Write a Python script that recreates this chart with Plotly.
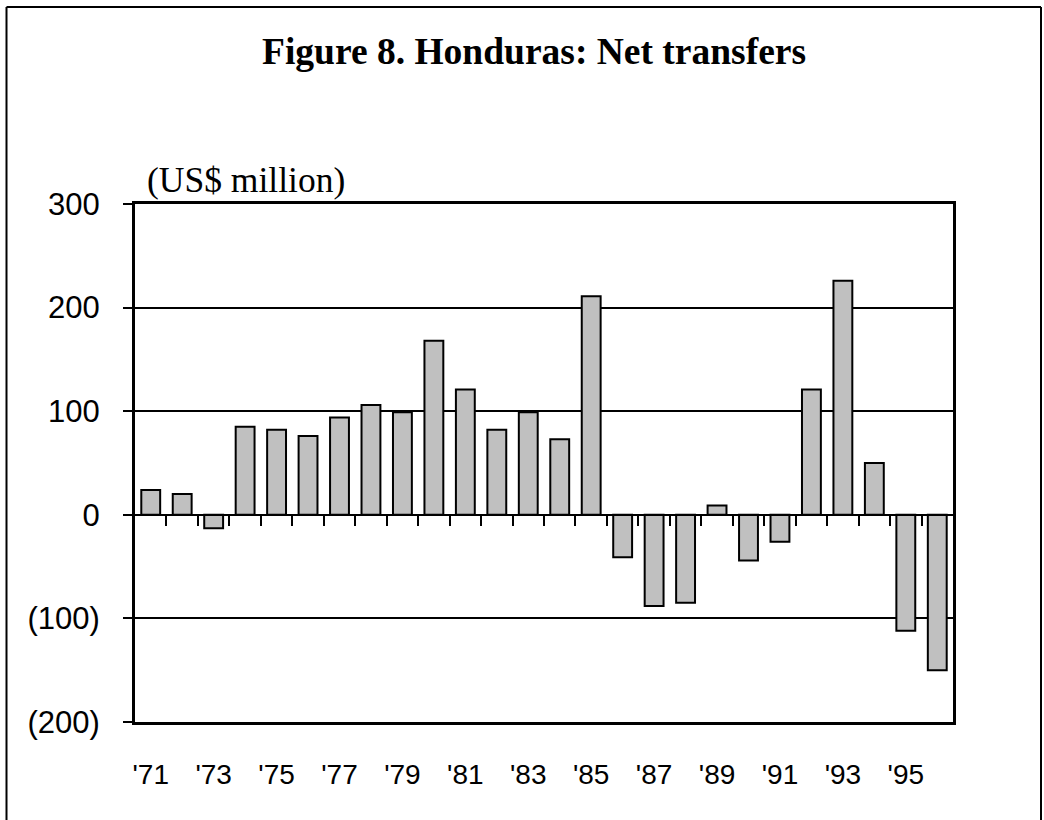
import plotly.graph_objects as go

# ---- data ----
years = [1971, 1972, 1973, 1974, 1975, 1976, 1977, 1978, 1979, 1980, 1981, 1982, 1983,
         1984, 1985, 1986, 1987, 1988, 1989, 1990, 1991, 1992, 1993, 1994, 1995, 1996]
net_transfers = [24, 20, -13, 85, 82, 76, 94, 106, 99, 168, 121, 82, 99,
                 73, 211, -41, -88, -85, 9, -44, -26, 121, 226, 50, -112, -150]
x_tick_years = [1971, 1973, 1975, 1977, 1979, 1981, 1983, 1985, 1987, 1989, 1991, 1993, 1995]
x_tick_text = ["'71", "'73", "'75", "'77", "'79", "'81", "'83", "'85", "'87", "'89", "'91", "'93", "'95"]
y_tick_vals = [300, 200, 100, 0, -100, -200]
y_tick_text = ["300", "200", "100", "0", "(100)", "(200)"]

title_text = "Figure 8. Honduras: Net transfers"
unit_text = "(US$ million)"

# ---- layout geometry ----
W, H = 1044, 820
L, R, T, B = 135, 91, 204, 98
pw, ph = W - L - R, H - T - B
ymin, ymax = -200, 300
xmin, xmax = years[0] - 0.5, years[-1] + 0.5


def px_x(x):
    return (x - L) / pw


def px_y(y):
    return (H - B - y) / ph


serif = "Times New Roman, Liberation Serif, serif"
sans = "Arial, Liberation Sans, sans-serif"

fig = go.Figure()
fig.add_trace(go.Bar(
    x=years, y=net_transfers,
    marker=dict(color="#c0c0c0", line=dict(color="black", width=2)),
    width=0.6, hoverinfo="x+y", showlegend=False,
))
# helper trace so that the zero-line axis (x2) exists
fig.add_trace(go.Scatter(x=[years[0]], y=[None], xaxis="x2", yaxis="y",
                         mode="markers", showlegend=False, hoverinfo="skip"))

boundaries = [y + 0.5 for y in years[:-1]]
zero_pos = (0 - ymin) / (ymax - ymin)

fig.update_layout(
    width=W, height=H,
    margin=dict(l=L, r=R, t=T, b=B),
    paper_bgcolor="white", plot_bgcolor="white",
    xaxis=dict(
        range=[xmin, xmax], tickmode="array", tickvals=x_tick_years, ticktext=x_tick_text,
        ticks="outside", ticklen=25, tickcolor="rgba(0,0,0,0)",
        showline=True, linecolor="black", linewidth=3, mirror=True,
        showgrid=False, zeroline=False,
        tickfont=dict(family=sans, size=28, color="black"),
    ),
    xaxis2=dict(
        range=[xmin, xmax], overlaying="x", anchor="free", position=zero_pos, side="bottom",
        tickmode="array", tickvals=boundaries, ticks="outside", ticklen=10, tickwidth=2,
        tickcolor="black", showticklabels=False,
        showline=True, linecolor="black", linewidth=2, showgrid=False, zeroline=False,
    ),
    yaxis=dict(
        range=[ymin, ymax], tickmode="array", tickvals=y_tick_vals, ticktext=y_tick_text,
        ticks="outside", ticklen=9, tickwidth=2, tickcolor="black",
        showline=True, linecolor="black", linewidth=3, mirror=True,
        showgrid=True, gridcolor="black", gridwidth=1.5, zeroline=False,
        ticklabelstandoff=17,
        tickfont=dict(family=sans, size=31, color="black"),
    ),
    annotations=[
        dict(text="<b>" + title_text + "</b>", xref="paper", yref="paper",
             x=px_x(534), y=px_y(52), xanchor="center", yanchor="middle",
             showarrow=False, font=dict(family=serif, size=37.5, color="black")),
        dict(text=unit_text, xref="paper", yref="paper",
             x=px_x(145), y=px_y(180), xanchor="left", yanchor="middle",
             showarrow=False, font=dict(family=serif, size=35.5, color="black")),
    ],
    shapes=[
        dict(type="line", xref="paper", yref="paper", x0=px_x(6.5), x1=px_x(6.5),
             y0=px_y(7), y1=px_y(830), line=dict(color="black", width=2)),
        dict(type="line", xref="paper", yref="paper", x0=px_x(6.5), x1=px_x(1041),
             y0=px_y(7), y1=px_y(7), line=dict(color="black", width=2)),
        dict(type="line", xref="paper", yref="paper", x0=px_x(1041), x1=px_x(1041),
             y0=px_y(7), y1=px_y(830), line=dict(color="black", width=2)),
    ],
    bargap=0.4,
)

fig.write_html(
    "out.html",
    config={"displayModeBar": False},
    post_script="document.body.style.margin='0px';document.body.style.overflow='hidden';",
)
